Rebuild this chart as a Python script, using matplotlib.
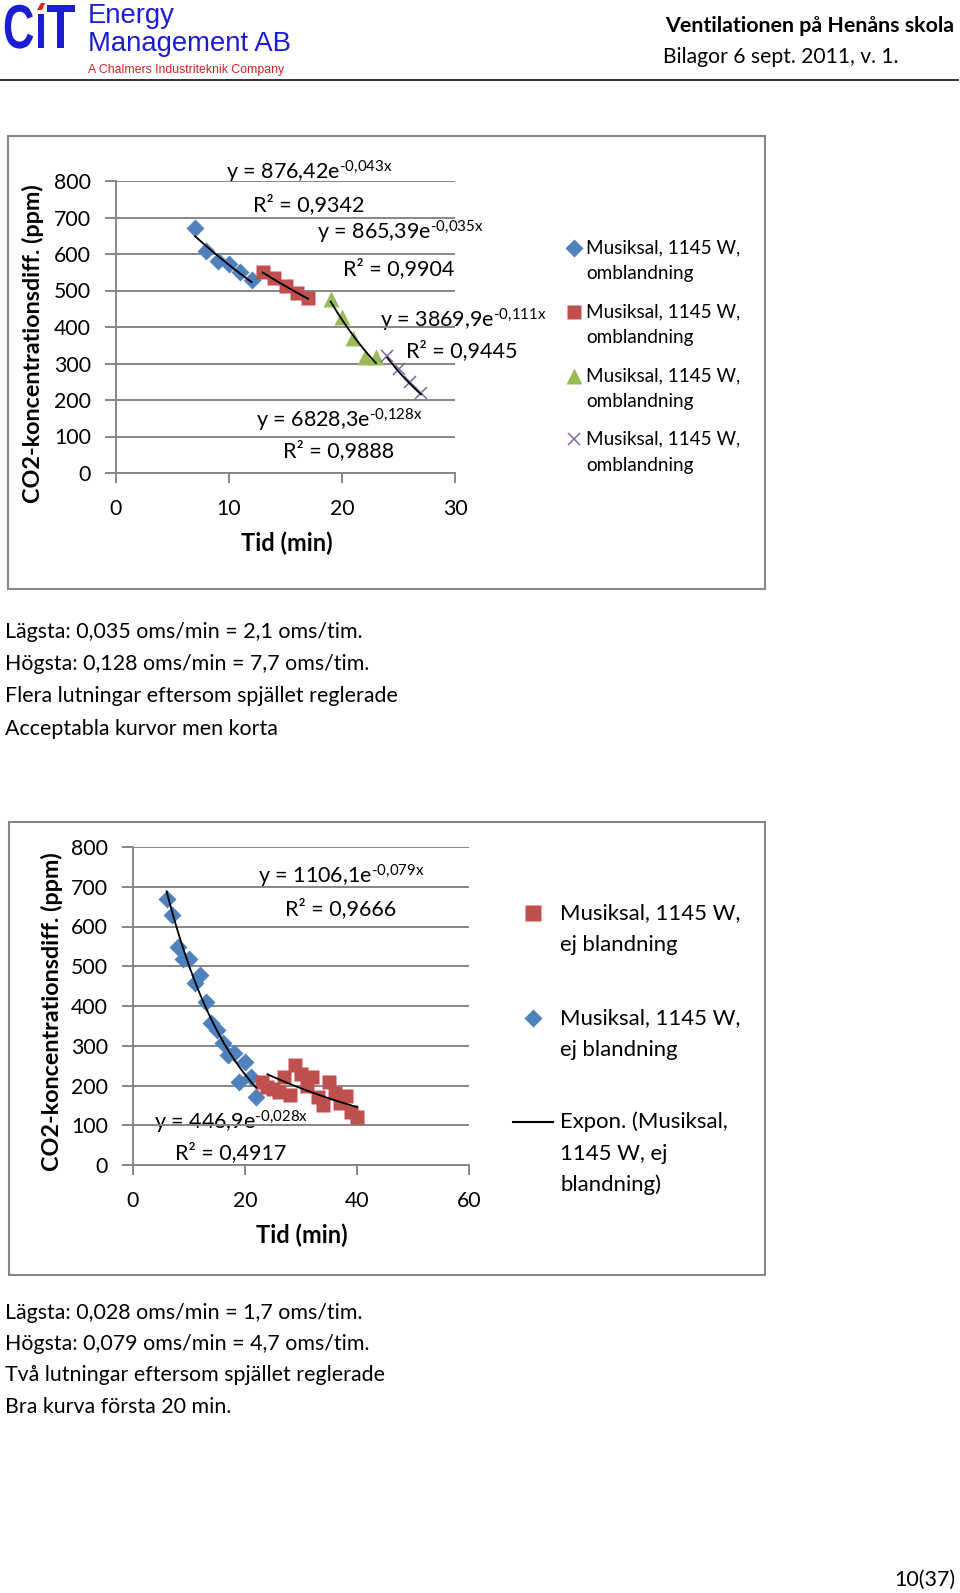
import numpy as np
import matplotlib
matplotlib.use("Agg")
import matplotlib.pyplot as plt
from matplotlib.patches import Rectangle, PathPatch, Polygon
from matplotlib.textpath import TextPath
from matplotlib.font_manager import FontProperties
from matplotlib.transforms import Affine2D

plt.rcParams['font.family'] = ['Lato', 'DejaVu Sans']
plt.rcParams['mathtext.fontset'] = 'custom'
plt.rcParams['mathtext.rm'] = 'Lato'
plt.rcParams['mathtext.it'] = 'Lato:italic'
plt.rcParams['mathtext.bf'] = 'Lato:bold'

# --- chart 1: omblandning, four segments ---
t_blue1 = [7, 8, 9, 10, 11, 12]
c_blue1 = [672, 609, 581, 573, 551, 529]
t_red1 = [13, 14, 15, 16, 17]
c_red1 = [551, 533, 512, 494, 480]
t_green1 = [19, 20, 21, 22, 23]
c_green1 = [476, 428, 369, 319, 319]
t_purple1 = [24, 25, 26, 27]
c_purple1 = [321, 284, 250, 220]
# (a, b, xstart, xend) for y = a*exp(-b*x)
fits1 = [(876.42, 0.043, 7, 12), (865.39, 0.035, 13, 17),
         (3869.9, 0.111, 19, 23), (6828.3, 0.128, 24, 27)]
eq1 = [("876,42", "0,043", "0,9342"), ("865,39", "0,035", "0,9904"),
       ("3869,9", "0,111", "0,9445"), ("6828,3", "0,128", "0,9888")]
legend1 = "Musiksal, 1145 W,"

# --- chart 2: ej blandning ---
t_blue2 = [6, 7, 8, 9, 10, 11, 12, 13, 14, 15, 16, 17, 18, 19, 20, 21, 22]
c_blue2 = [668, 628, 548, 517, 519, 457, 479, 409, 356, 339, 308, 276, 282, 210, 260, 221, 170]
t_red2 = [23, 24, 25, 26, 27, 28, 29, 30, 31, 32, 33, 34, 35, 36, 37, 38, 39, 40]
c_red2 = [209, 197, 190, 184, 222, 176, 251, 230, 200, 222, 172, 151, 209, 180, 157, 173, 134, 121]
fits2 = [(1106.1, 0.079, 6, 22), (446.9, 0.028, 24, 40)]
eq2 = [("1106,1", "0,079", "0,9666"), ("446,9", "0,028", "0,4917")]

notes1 = ["Lägsta: 0,035 oms/min = 2,1 oms/tim.",
          "Högsta: 0,128 oms/min = 7,7 oms/tim.",
          "Flera lutningar eftersom spjället reglerade",
          "Acceptabla kurvor men korta"]
notes2 = ["Lägsta: 0,028 oms/min = 1,7 oms/tim.",
          "Högsta: 0,079 oms/min = 4,7 oms/tim.",
          "Två lutningar eftersom spjället reglerade",
          "Bra kurva första 20 min."]

BLUE, RED, GREEN, PURPLE = '#4F81BD', '#C0504D', '#9BBB59', '#8064A2'
GRID = '#868686'
LOGO = '#1c1cd2'

W, H = 960, 1593
fig = plt.figure(figsize=(W / 100, H / 100), dpi=100)
page = fig.add_axes([0, 0, 1, 1], zorder=0)
page.set_xlim(0, W)
page.set_ylim(H, 0)
page.axis('off')


def box(l, t, r, b):
    return [l / W, 1 - b / H, (r - l) / W, (b - t) / H]


def style(ax, xmax, xstep):
    ax.set_xlim(0, xmax)
    ax.set_ylim(0, 800)
    ax.set_xticks(np.arange(0, xmax + 1, xstep))
    ax.set_yticks(np.arange(0, 801, 100))
    ax.yaxis.grid(True, color=GRID, lw=1.4)
    ax.set_axisbelow(True)
    ax.spines['top'].set_visible(False)
    ax.spines['right'].set_visible(False)
    for s in ['left', 'bottom']:
        ax.spines[s].set_color(GRID)
        ax.spines[s].set_linewidth(1.4)
    ax.tick_params(axis='y', direction='out', length=8, width=1.4, color=GRID,
                   labelsize=15.3, pad=10)
    ax.tick_params(axis='x', direction='out', length=7, width=1.4, color=GRID,
                   labelsize=15.3, pad=12)
    ax.patch.set_alpha(0)


def trend(ax, a, b, x0, x1):
    xs = np.linspace(x0, x1, 50)
    ax.plot(xs, a * np.exp(-b * xs), color='black', lw=1.3, zorder=4)


def eq_label(xc, yc, coef, expo, r2):
    page.text(xc, yc + 7, "y = %se$^{\\text{-%sx}}$" % (coef, expo),
              ha='center', va='baseline', fontsize=15.5)


def r2_label(xc, yc, r2):
    page.text(xc, yc + 7, "R² = " + r2, ha='center', va='baseline', fontsize=15.5)


def lines(x, ys, strs, **kw):
    for y, s in zip(ys, strs):
        page.text(x, y, s, va='center', **kw)


# ---------- header ----------
bold_arial = FontProperties(family='Liberation Sans', weight='bold')
for ch, x0, sx in [("C", 3, 0.70), ("T", 46, 0.78)]:
    tp = TextPath((0, 0), ch, size=62, prop=bold_arial)
    page.add_patch(PathPatch(tp, transform=Affine2D().scale(sx, -1.0).translate(x0, 48) + page.transData,
                             color=LOGO, lw=0))
page.add_patch(Rectangle((38, 14), 5.5, 34, color=LOGO, lw=0))
page.add_patch(Polygon([(37, 10), (41, 3), (45, 3), (42, 10)], closed=True, color='#d42020', lw=0))
page.text(88, 16, "Energy", fontsize=19.8, family='Liberation Sans', color=LOGO, va='center')
page.text(88, 44, "Management AB", fontsize=19.8, family='Liberation Sans', color=LOGO, va='center')
page.text(88, 70, "A Chalmers Industriteknik Company", fontsize=8.8, family='Liberation Sans',
          color='#d42020', va='center')
page.text(954, 26, "Ventilationen på Henåns skola", fontsize=15.4, fontweight='bold',
          ha='right', va='center')
page.text(663, 57, "Bilagor 6 sept. 2011, v. 1.", fontsize=15.2, ha='left', va='center')
page.plot([0, 958], [80, 80], color='#222222', lw=1.3)

# ---------- chart 1 ----------
page.add_patch(Rectangle((8, 136), 757, 453, fill=False, edgecolor=GRID, lw=1.5))
ax1 = fig.add_axes(box(116, 181, 455, 473), zorder=2)
style(ax1, 30, 10)
ax1.plot(t_blue1, c_blue1, 'D', color=BLUE, ms=9.2, mec='none', zorder=3, clip_on=False)
ax1.plot(t_red1, c_red1, 's', color=RED, ms=9.6, mec='none', zorder=3, clip_on=False)
ax1.plot(t_green1, c_green1, '^', color=GREEN, ms=11.5, mec='none', zorder=3, clip_on=False)
ax1.plot(t_purple1, c_purple1, 'x', color=PURPLE, ms=9, mew=1.1, zorder=3, clip_on=False)
for a, b, x0, x1 in fits1:
    trend(ax1, a, b, x0, x1)

pos1 = [(309, 173, 309, 204), (400, 233, 399, 268), (463, 321, 462, 350), (339, 420, 339, 450)]
for (coef, expo, r2), (ex, ey, rx, ry) in zip(eq1, pos1):
    eq_label(ex, ey, coef, expo, r2)
    r2_label(rx, ry, r2)

page.text(33, 344, "CO2-koncentrationsdiff. (ppm)", rotation=90, fontsize=16.8,
          fontweight='bold', ha='center', va='center')
page.text(287, 543, "Tid (min)", fontsize=17, fontweight='bold', ha='center', va='center')

leg_y1 = [248, 312, 376, 439]
for y, (mk, col, ms) in zip(leg_y1, [('D', BLUE, 9.2), ('s', RED, 9.6), ('^', GREEN, 11.5), ('x', PURPLE, 9)]):
    if mk == 'x':
        page.plot([574], [y], mk, color=col, ms=ms, mew=1.1)
    else:
        page.plot([574], [y], mk, color=col, ms=ms, mec='none')
    lines(586, [y, y + 26], [legend1, "omblandning"], fontsize=13.6)

lines(5, [632, 664, 696, 729], notes1, fontsize=15.4)

# ---------- chart 2 ----------
page.add_patch(Rectangle((9, 822), 756, 453, fill=False, edgecolor=GRID, lw=1.5))
ax2 = fig.add_axes(box(133, 847, 469, 1165), zorder=2)
style(ax2, 60, 20)
ax2.plot(t_blue2, c_blue2, 'D', color=BLUE, ms=9.4, mec='none', zorder=3, clip_on=False)
ax2.plot(t_red2, c_red2, 's', color=RED, ms=9.8, mec='none', zorder=3, clip_on=False)
for a, b, x0, x1 in fits2:
    trend(ax2, a, b, x0, x1)

pos2 = [(341, 877, 341, 908), (231, 1122, 231, 1152)]
for (coef, expo, r2), (ex, ey, rx, ry) in zip(eq2, pos2):
    eq_label(ex, ey, coef, expo, r2)
    r2_label(rx, ry, r2)

page.text(52, 1012, "CO2-koncentrationsdiff. (ppm)", rotation=90, fontsize=16.8,
          fontweight='bold', ha='center', va='center')
page.text(302, 1235, "Tid (min)", fontsize=17, fontweight='bold', ha='center', va='center')

page.plot([533], [913], 's', color=RED, ms=11, mec='none')
lines(560, [913, 945], ["Musiksal, 1145 W,", "ej blandning"], fontsize=15.9)
page.plot([533], [1018], 'D', color=BLUE, ms=9.5, mec='none')
lines(560, [1018, 1050], ["Musiksal, 1145 W,", "ej blandning"], fontsize=15.9)
page.plot([513, 553], [1122, 1122], color='black', lw=1.5)
lines(560, [1122, 1154, 1185], ["Expon. (Musiksal,", "1145 W, ej", "blandning)"], fontsize=15.9)

lines(5, [1313, 1344, 1375, 1407], notes2, fontsize=15.4)

page.text(955, 1580, "10(37)", fontsize=15.4, ha='right', va='center')

fig.savefig("out.png", dpi=100)
